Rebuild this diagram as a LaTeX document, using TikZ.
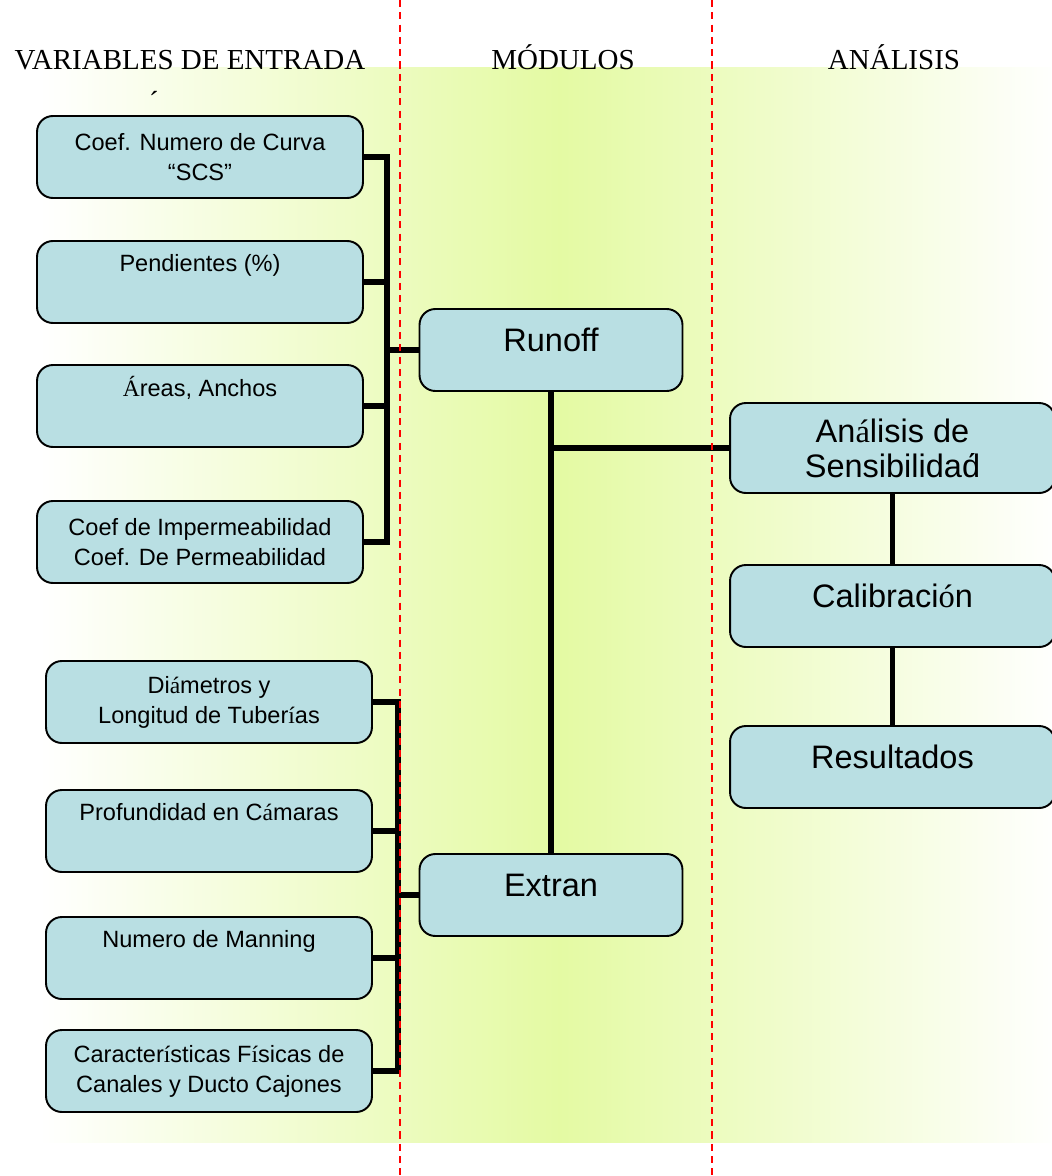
\documentclass[tikz,border=0pt]{standalone}
\usepackage{fontspec}
\setmainfont{Liberation Serif}
\setsansfont{Liberation Sans}
\newfontfamily\accfont{Liberation Serif}
\usepackage{tikz}
\usepackage{xcolor}
\usetikzlibrary{positioning,calc}
\definecolor{boxblue}{RGB}{185,223,227}
\definecolor{bandgreen}{RGB}{228,250,163}
\newcommand{\ac}[1]{{\accfont #1}}

\begin{document}
\begin{tikzpicture}[x=0.02cm,y=-0.02cm]
\tikzstyle{every node}+=[inner sep=0pt]
\tikzstyle{inbox}=[draw=black, line width=1.1pt, fill=boxblue, rounded corners=9pt, minimum width=6.52cm, minimum height=1.64cm, align=center, font=\sffamily\fontsize{13.4}{17}\selectfont]
\tikzstyle{modbox}=[inbox, minimum width=5.26cm, font=\sffamily\fontsize{18.5}{20}\selectfont]
\tikzstyle{anbox}=[modbox, minimum width=6.5cm]
\tikzstyle{oneline}=[text height=14pt, text depth=12pt]
\tikzstyle{link}=[black, line width=3.2pt]
\tikzstyle{colhead}=[anchor=base, font=\rmfamily\fontsize{16.5}{18}\selectfont]
\tikzstyle{divider}=[red, line width=0.8pt, dash pattern=on 4pt off 3pt]
\useasboundingbox (0,0) rectangle (1051,1176);
% background band
\shade [left color=white, right color=bandgreen!70] (40,68) rectangle (400,1142);
\shade [left color=bandgreen!70, right color=bandgreen] (399,68) rectangle (560,1142);
\shade [left color=bandgreen, right color=bandgreen!70] (559,68) rectangle (712,1142);
\shade [left color=bandgreen!70, right color=bandgreen!2] (711,68) rectangle (1051,1142);
% headers
\node [colhead] (hin) at (190,70) {VARIABLES DE ENTRADA};
\node [colhead] (hacc) at (154,112) {´};
\node [colhead] (hmod) at (563,70) {MÓDULOS};
\node [colhead] (han) at (894,70) {ANÁLISIS};
% input variables
\node [inbox] (curva) at (200,157) {Coef. Numero de Curva\\“SCS”};
\node [inbox] (pend) at (200,282) {Pendientes (\%)\\\strut};
\node [inbox] (areas) at (200,406) {\ac{Á}reas, Anchos\\\strut};
\node [inbox] (perm) at (200,542) {Coef de Impermeabilidad\\Coef. De Permeabilidad};
\node [inbox] (diam) at (209,702) {Di\ac{á}metros y\\Longitud de Tuber\ac{í}as};
\node [inbox] (prof) at (209,831) {Profundidad en C\ac{á}maras\\\strut};
\node [inbox] (mann) at (209,958) {Numero de Manning\\\strut};
\node [inbox] (carac) at (209,1071) {Caracter\ac{í}sticas F\ac{í}sicas de\\Canales y Ducto Cajones};
% modules
\node [modbox, oneline] (runoff) at (551,350) {Runoff};
\node [modbox, oneline] (extran) at (551,895) {Extran};
% analysis
\node [anbox, minimum height=1.8cm] (sens) at (892.5,448) {An\ac{á}lisis de\\Sensibilidad́};
\node [anbox, oneline] (calib) at (892.5,606) {Calibraci\ac{ó}n};
\node [anbox, oneline] (result) at (892.5,767) {Resultados};
% connectors
\coordinate (bus1) at (387,350);
\coordinate (bus2) at (398,895);
\draw [link] (curva.east) -| (bus1) |- (perm.east);
\draw [link] (pend.east) -- (pend.east -| bus1);
\draw [link] (areas.east) -- (areas.east -| bus1);
\draw [link] (bus1) -- (runoff.west);
\draw [link] (diam.east) -| (bus2) |- (carac.east);
\draw [link] (prof.east) -- (prof.east -| bus2);
\draw [link] (mann.east) -- (mann.east -| bus2);
\draw [link] (bus2) -- (extran.west);
\draw [link] (runoff.south) -- (extran.north);
\draw [link] (runoff.south |- sens.west) -- (sens.west);
\draw [link] (sens.south) -- (calib.north);
\draw [link] (calib.south) -- (result.north);
% column dividers
\draw [divider] (400,0) -- (400,1176);
\draw [divider] (712,0) -- (712,1176);
\end{tikzpicture}
\end{document}
